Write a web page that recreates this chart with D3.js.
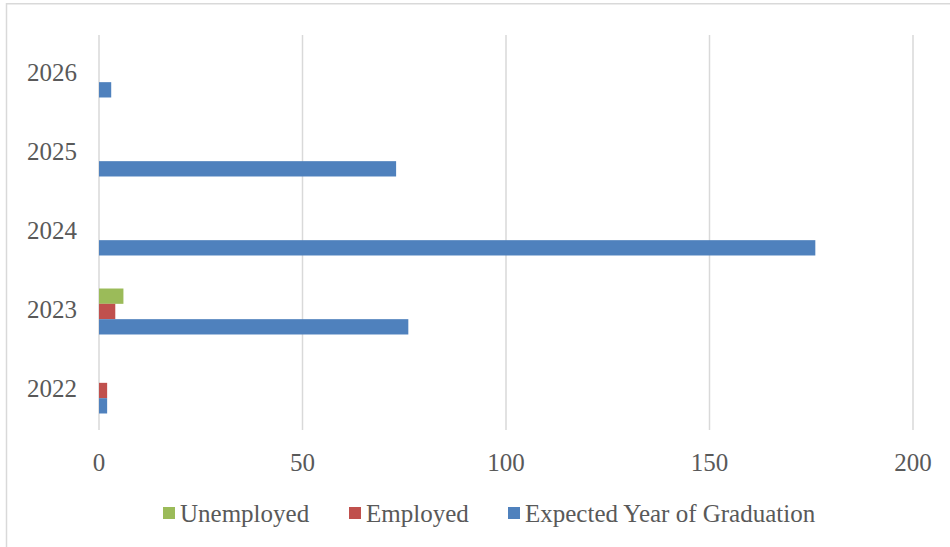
<!DOCTYPE html>
<html>
<head>
<meta charset="utf-8">
<script src="https://cdn.jsdelivr.net/npm/d3@7"></script>
<style>
  html, body { margin: 0; padding: 0; background: #fff; }
  svg text { font-family: "Liberation Serif", "DejaVu Serif", serif; fill: #595959; }
</style>
</head>
<body>
<svg id="chart" width="950" height="547"></svg>
<script>
// Graduation year categories (drawn bottom to top)
const years = ["2022", "2023", "2024", "2025", "2026"];
// Series, in the order they appear in the legend
const seriesNames = ["Unemployed", "Employed", "Expected Year of Graduation"];
const unemployed = [0, 6, 0, 0, 0];
const employed = [2, 4, 0, 0, 0];
const expectedGrad = [2, 76, 176, 73, 3];
const xTicks = [0, 50, 100, 150, 200];
const colors = ["#9BBB59", "#C0504D", "#4F81BD"];

const seriesValues = [unemployed, employed, expectedGrad];

const svg = d3.select("#chart");
const plot = { left: 99, right: 913, top: 35, bottom: 430 };

// Outer chart frame
svg.append("path")
  .attr("d", `M6.5,547 V3.8 H950`)
  .attr("fill", "none")
  .attr("stroke", "#d9d9d9")
  .attr("stroke-width", 1.5);

const x = d3.scaleLinear().domain([0, 200]).range([plot.left, plot.right]);

// Categories: latest year at top
const p = 0.418;
const y0 = d3.scaleBand()
  .domain(years.slice().reverse())
  .range([plot.top, plot.bottom])
  .paddingInner(p)
  .paddingOuter(p / 2);

const y1 = d3.scaleBand()
  .domain(seriesNames)
  .range([0, y0.bandwidth()]);

// Vertical gridlines
svg.append("g")
  .selectAll("line")
  .data(xTicks)
  .join("line")
  .attr("x1", d => x(d)).attr("x2", d => x(d))
  .attr("y1", plot.top).attr("y2", plot.bottom)
  .attr("stroke", "#d9d9d9")
  .attr("stroke-width", 1.5);

// Bars
const rows = [];
years.forEach((yr, i) => {
  seriesNames.forEach((s, j) => {
    rows.push({ year: yr, series: s, value: seriesValues[j][i], color: colors[j] });
  });
});

svg.append("g")
  .selectAll("rect")
  .data(rows.filter(d => d.value > 0))
  .join("rect")
  .attr("x", x(0))
  .attr("y", d => y0(d.year) + y1(d.series))
  .attr("width", d => x(d.value) - x(0))
  .attr("height", y1.bandwidth())
  .attr("fill", d => d.color);

// Category labels
svg.append("g")
  .selectAll("text")
  .data(years)
  .join("text")
  .attr("x", 77)
  .attr("y", d => y0(d) + y0.bandwidth() / 2 + 6.5)
  .attr("text-anchor", "end")
  .attr("font-size", 25)
  .text(d => d);

// Value axis labels
svg.append("g")
  .selectAll("text")
  .data(xTicks)
  .join("text")
  .attr("x", d => x(d))
  .attr("y", 471)
  .attr("text-anchor", "middle")
  .attr("font-size", 25)
  .text(d => d);

// Legend
const legendItems = [
  { name: seriesNames[0], color: colors[0], mx: 163 },
  { name: seriesNames[1], color: colors[1], mx: 349 },
  { name: seriesNames[2], color: colors[2], mx: 508 }
];
const lg = svg.append("g");
lg.selectAll("rect")
  .data(legendItems)
  .join("rect")
  .attr("x", d => d.mx).attr("y", 507)
  .attr("width", 12).attr("height", 12)
  .attr("fill", d => d.color);
lg.selectAll("text")
  .data(legendItems)
  .join("text")
  .attr("x", d => d.mx + 17)
  .attr("y", 522)
  .attr("font-size", 25)
  .text(d => d.name);
</script>
</body>
</html>
